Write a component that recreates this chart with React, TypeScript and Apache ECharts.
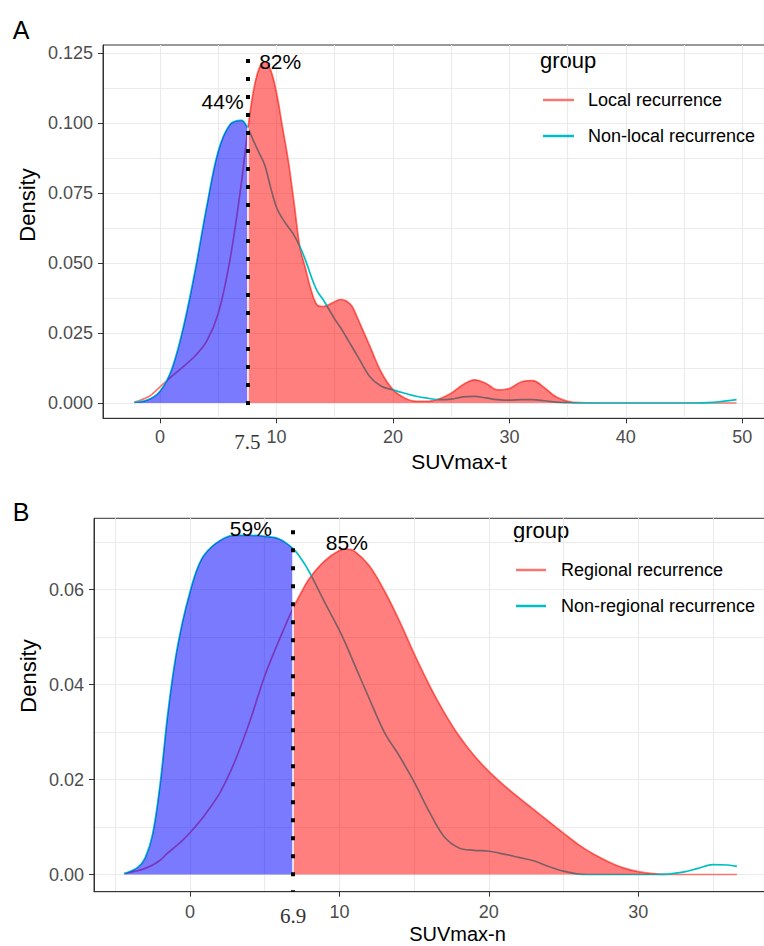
import React, { useEffect, useRef } from "react";
import * as echarts from "echarts";

const SANS = '"Liberation Sans", Arial, Helvetica, sans-serif';
const SERIF = '"Liberation Serif", "DejaVu Serif", "Times New Roman", serif';

// ---------- Panel A data ----------
const xA = [-2.2, -1, 0, 1, 2, 3, 4, 5, 6, 7, 7.5, 8, 8.5, 9, 9.5, 10, 10.5, 11, 11.5, 12,
  12.5, 13, 13.5, 14, 15, 15.5, 16, 16.5, 17, 18, 19, 20, 21, 22, 23, 24, 25, 26, 27, 28,
  29, 30, 31, 32, 33, 34, 35, 36, 38, 40, 42, 44, 46, 47, 48, 49.5];
const localA = [0.0003, 0.0022, 0.0058, 0.0095, 0.013, 0.0168, 0.022, 0.032, 0.051, 0.079,
  0.0965, 0.111, 0.1195, 0.122, 0.119, 0.111, 0.099, 0.087, 0.072, 0.056,
  0.048, 0.040, 0.035, 0.0345, 0.0362, 0.037, 0.0365, 0.0345, 0.030, 0.0205,
  0.011, 0.0048, 0.0018, 0.0006, 0.0006, 0.0015, 0.0035, 0.0065, 0.0083, 0.007,
  0.0047, 0.0052, 0.0075, 0.008, 0.0055, 0.0022, 0.0006, 0.0001, 0, 0,
  0, 0, 0, 0, 0, 0];
const nonLocalA = [0.0002, 0.0012, 0.0042, 0.012, 0.027, 0.047, 0.070, 0.090, 0.0995, 0.101,
  0.0985, 0.094, 0.0895, 0.085, 0.077, 0.070, 0.066, 0.063, 0.060, 0.056,
  0.051, 0.045, 0.040, 0.037, 0.030, 0.027, 0.0235, 0.020, 0.0165, 0.0095,
  0.006, 0.0047, 0.0035, 0.0024, 0.0017, 0.0012, 0.0014, 0.0022, 0.0024, 0.0018,
  0.0012, 0.001, 0.0012, 0.0012, 0.0008, 0.0003, 0.0001, 0, 0, 0,
  0, 0, 0, 0.0001, 0.0004, 0.0012];
const cutA = 7.5;
const xTicksA = [0, 10, 20, 30, 40, 50];
const yTicksA = [0, 0.025, 0.05, 0.075, 0.1, 0.125];
const xGridA = [0, 5, 10, 15, 20, 25, 30, 35, 40, 45, 50, 55];
const yGridA = [0, 0.0125, 0.025, 0.0375, 0.05, 0.0625, 0.075, 0.0875, 0.1, 0.1125, 0.125];
const labelsA = [
  { text: "82%", x: 10.32, y: 0.1221 },
  { text: "44%", x: 5.37, y: 0.1079 },
];

// ---------- Panel B data ----------
const xB = [-4.4, -3.5, -3, -2.5, -2, -1.5, -1, -0.5, 0, 0.5, 1, 2, 3, 4, 5, 6, 6.9, 7.5, 8, 9,
  10, 10.5, 11, 12, 13, 14, 15, 16, 17, 18, 19, 20, 21, 22, 23, 24, 25, 26, 27, 28,
  29, 30, 31, 32, 33, 34, 35, 36, 36.6];
const regionalB = [0.0002, 0.0008, 0.0013, 0.002, 0.003, 0.0045, 0.0058, 0.0072, 0.0088, 0.0106,
  0.0126, 0.0172, 0.0238, 0.0322, 0.0418, 0.0496, 0.0561, 0.0597, 0.0624, 0.066,
  0.0682, 0.0685, 0.0681, 0.065, 0.0598, 0.0535, 0.0465, 0.040, 0.0342, 0.0292,
  0.0251, 0.0217, 0.0188, 0.0162, 0.0137, 0.0112, 0.0087, 0.0063, 0.0043, 0.0027,
  0.0014, 0.0006, 0.0002, 0, 0, 0, 0, 0, 0];
const nonRegionalB = [0.0002, 0.0015, 0.0035, 0.0085, 0.019, 0.0335, 0.0450, 0.0532, 0.0595, 0.0645,
  0.0675, 0.0703, 0.0714, 0.0714, 0.0712, 0.0706, 0.0686, 0.0662, 0.0636, 0.0574,
  0.0514, 0.048, 0.0443, 0.0370, 0.0300, 0.0250, 0.0195, 0.0133, 0.0080, 0.0056,
  0.0051, 0.0049, 0.0043, 0.0036, 0.0029, 0.0017, 0.0007, 0.0001, 0, 0,
  0, 0, 0, 0.0001, 0.0005, 0.0013, 0.0021, 0.002, 0.0017];
const cutB = 6.9;
const xTicksB = [0, 10, 20, 30];
const yTicksB = [0, 0.02, 0.04, 0.06];
const xGridB = [-5, 0, 5, 10, 15, 20, 25, 30, 35, 40];
const yGridB = [0, 0.01, 0.02, 0.03, 0.04, 0.05, 0.06, 0.07];
const labelsB = [
  { text: "59%", x: 4.07, y: 0.0728 },
  { text: "85%", x: 10.5, y: 0.0700 },
];

const RED = "#F8766D";
const TEAL = "#00BFC4";

type PanelCfg = {
  g: number;
  xs: number[];
  pos: number[];
  neg: number[];
  posName: string;
  negName: string;
  cut: number;
  xTicks: number[];
  yTicks: number[];
  xGrid: number[];
  yGrid: number[];
  xMin: number;
  xMax: number;
  yMin: number;
  yMax: number;
  dotTop: number;
  yDigits: number;
  xName: string;
  nameGap: number;
  nameSize: number;
  labels: { text: string; x: number; y: number }[];
  labelMargin: number;
};

function pairs(xs: number[], ys: number[], pred: (x: number) => boolean) {
  const out: number[][] = [];
  xs.forEach((x, i) => {
    if (pred(x)) out.push([x, ys[i]]);
  });
  return out;
}

const SMOOTH = 0.35;

function buildPanel(c: PanelCfg) {
  const xi = c.g * 2;
  const axisLineStyle = { color: "#333", width: 1 };
  const xAxes = [
    {
      type: "value", gridIndex: c.g, min: c.xMin, max: c.xMax, position: "bottom",
      axisLine: { show: true, onZero: false, lineStyle: axisLineStyle },
      axisTick: { show: true, inside: false, length: 5, customValues: c.xTicks, lineStyle: axisLineStyle },
      axisLabel: {
        show: true,
        customValues: [...c.xTicks, c.cut].sort((a, b) => a - b),
        margin: c.labelMargin, fontSize: 18, color: "#4D4D4D", fontFamily: SANS,
        formatter: (v: number) => (Math.abs(v - c.cut) < 1e-9 ? "{s|" + String(c.cut) + "}" : String(v)),
        rich: { s: { fontFamily: SERIF, fontSize: 21, color: "#333", padding: [3, 0, 0, 0] } },
      },
      splitLine: { show: false },
      name: c.xName, nameLocation: "middle", nameGap: c.nameGap, nameMoveOverlap: false,
      nameTextStyle: { fontSize: c.nameSize, color: "#000", fontFamily: SANS, lineHeight: c.nameSize },
    },
    {
      type: "value", gridIndex: c.g, min: c.xMin, max: c.xMax, position: "top",
      axisLine: { show: false, onZero: false },
      axisTick: { show: false, customValues: c.xGrid },
      axisLabel: { show: false, customValues: c.xGrid },
      splitLine: { show: true, lineStyle: { color: "#EBEBEB", width: 1.2 } },
    },
  ];
  const yAxes = [
    {
      type: "value", gridIndex: c.g, min: c.yMin, max: c.yMax, position: "left",
      axisLine: { show: true, onZero: false, lineStyle: axisLineStyle },
      axisTick: { show: true, inside: false, length: 5, customValues: c.yTicks, lineStyle: axisLineStyle },
      axisLabel: {
        show: true, customValues: c.yTicks, margin: 10, fontSize: 18, color: "#4D4D4D", fontFamily: SANS,
        formatter: (v: number) => v.toFixed(c.yDigits),
      },
      splitLine: { show: false },
    },
    {
      type: "value", gridIndex: c.g, min: c.yMin, max: c.yMax, position: "right",
      axisLine: { show: false, onZero: false },
      axisTick: { show: false, customValues: c.yGrid },
      axisLabel: { show: false, customValues: c.yGrid },
      splitLine: { show: true, lineStyle: { color: "#EBEBEB", width: 1.2 } },
    },
  ];
  const cutIdx = c.xs.indexOf(c.cut);
  const series = [
    {
      name: c.posName, type: "line", xAxisIndex: xi, yAxisIndex: xi, z: 2,
      data: pairs(c.xs, c.pos, () => true), symbol: "none", showSymbol: false,
      smooth: SMOOTH, color: RED, lineStyle: { color: RED, width: 1.7 },
    },
    {
      name: c.negName, type: "line", xAxisIndex: xi, yAxisIndex: xi, z: 2,
      data: pairs(c.xs, c.neg, () => true), symbol: "none", showSymbol: false,
      smooth: SMOOTH, color: TEAL, lineStyle: { color: TEAL, width: 1.7 },
    },
    {
      name: "fillNeg" + c.g, type: "line", xAxisIndex: xi, yAxisIndex: xi, z: 3,
      data: pairs(c.xs, c.neg, (x) => x <= c.cut), symbol: "none", showSymbol: false,
      smooth: SMOOTH, lineStyle: { width: 0, opacity: 0 },
      areaStyle: { color: "rgba(0,0,255,0.52)", opacity: 1 },
    },
    {
      name: "fillPos" + c.g, type: "line", xAxisIndex: xi, yAxisIndex: xi, z: 3,
      data: pairs(c.xs, c.pos, (x) => x >= c.cut), symbol: "none", showSymbol: false,
      smooth: SMOOTH, lineStyle: { width: 0, opacity: 0 },
      areaStyle: { color: "rgba(255,0,0,0.5)", opacity: 1 },
    },
    {
      name: "white" + c.g, type: "line", xAxisIndex: xi, yAxisIndex: xi, z: 4,
      data: [], symbol: "none",
      markLine: {
        silent: true, symbol: ["none", "none"], label: { show: false }, animation: false,
        lineStyle: { color: "#fff", width: 1.5, type: "solid" },
        data: [[{ coord: [c.cut, 0] }, { coord: [c.cut, c.neg[cutIdx]] }]],
      },
    },
    {
      name: "annot" + c.g, type: "line", xAxisIndex: xi, yAxisIndex: xi, z: 5,
      data: [], symbol: "none",
      markLine: {
        silent: true, symbol: ["none", "none"], label: { show: false }, animation: false,
        lineStyle: { color: "#000", width: 4, type: [4, 14], cap: "butt", opacity: 1 },
        data: [[{ coord: [c.cut, c.dotTop] }, { coord: [c.cut, c.yMin] }]],
      },
      markPoint: {
        symbol: "circle", symbolSize: 1, itemStyle: { color: "rgba(0,0,0,0)" }, animation: false,
        label: {
          show: true, position: "inside", fontSize: 21, color: "#000", fontFamily: SANS,
          formatter: (p: any) => p.name,
        },
        data: c.labels.map((l) => ({ name: l.text, coord: [l.x, l.y] })),
      },
    },
  ];
  return { xAxes, yAxes, series };
}

const panelA = buildPanel({
  g: 0, xs: xA, pos: localA, neg: nonLocalA, posName: "Local recurrence", negName: "Non-local recurrence",
  cut: cutA, xTicks: xTicksA, yTicks: yTicksA, xGrid: xGridA, yGrid: yGridA,
  xMin: -4.894, xMax: 56.24, yMin: -0.00547, yMax: 0.12798, dotTop: 0.12297, yDigits: 3,
  xName: "SUVmax-t", nameGap: 33, nameSize: 21, labels: labelsA, labelMargin: 10,
});
const panelB = buildPanel({
  g: 1, xs: xB, pos: regionalB, neg: nonRegionalB, posName: "Regional recurrence", negName: "Non-regional recurrence",
  cut: cutB, xTicks: xTicksB, yTicks: yTicksB, xGrid: xGridB, yGrid: yGridB,
  xMin: -6.424, xMax: 42.23, yMin: -0.00362, yMax: 0.075, dotTop: 0.07246, yDigits: 2,
  xName: "SUVmax-n", nameGap: 32, nameSize: 20, labels: labelsB, labelMargin: 11,
});

const legendBase = {
  orient: "vertical", padding: 0, itemHeight: 2.5, itemGap: 16, icon: "rect", selectedMode: false,
  textStyle: { fontSize: 18, color: "#000", fontFamily: SANS, lineHeight: 20 },
};

const option: any = {
  animation: false,
  backgroundColor: "#fff",
  textStyle: { fontFamily: SANS },
  grid: [
    {
      left: 103, top: 45, width: 712, height: 373.3, show: true, borderColor: "#333", borderWidth: 1,
      containLabel: false, outerBoundsMode: "none",
    },
    {
      left: 94, top: 518.3, width: 727, height: 373.4, show: true, borderColor: "#333", borderWidth: 1,
      containLabel: false, outerBoundsMode: "none",
    },
  ],
  xAxis: [...panelA.xAxes, ...panelB.xAxes],
  yAxis: [...panelA.yAxes, ...panelB.yAxes],
  series: [...panelA.series, ...panelB.series],
  legend: [
    {
      ...legendBase, data: ["Local recurrence", "Non-local recurrence"], left: 543, top: 90, itemWidth: 31,
      textStyle: { ...legendBase.textStyle, padding: [0, 0, 0, 9] },
    },
    {
      ...legendBase, data: ["Regional recurrence", "Non-regional recurrence"], left: 516, top: 560, itemWidth: 30,
      textStyle: { ...legendBase.textStyle, padding: [0, 0, 0, 10] },
    },
  ],
  graphic: [
    { type: "text", x: 21, y: 30, style: { text: "A", fontSize: 25, fill: "#000", fontFamily: SANS, align: "center", verticalAlign: "middle" } },
    { type: "text", x: 21, y: 512, style: { text: "B", fontSize: 25, fill: "#000", fontFamily: SANS, align: "center", verticalAlign: "middle" } },
    { type: "text", x: 27, y: 205, rotation: Math.PI / 2, style: { text: "Density", fontSize: 22, fill: "#000", fontFamily: SANS, align: "center", verticalAlign: "middle" } },
    { type: "text", x: 28, y: 676, rotation: Math.PI / 2, style: { text: "Density", fontSize: 22, fill: "#000", fontFamily: SANS, align: "center", verticalAlign: "middle" } },
    { type: "text", x: 540, y: 60, style: { text: "group", fontSize: 22, fill: "#000", fontFamily: SANS, align: "left", verticalAlign: "middle" } },
    { type: "text", x: 513, y: 530, style: { text: "group", fontSize: 22, fill: "#000", fontFamily: SANS, align: "left", verticalAlign: "middle" } },
  ],
};

export default function App() {
  const ref = useRef<HTMLDivElement>(null);
  useEffect(() => {
    if (!ref.current) return;
    const chart = echarts.init(ref.current, null, { renderer: "svg" });
    chart.setOption(option);
    return () => chart.dispose();
  }, []);
  return (
    <div
      ref={ref}
      style={{ position: "fixed", left: 0, top: 0, width: 764, height: 946, background: "#fff" }}
    />
  );
}
